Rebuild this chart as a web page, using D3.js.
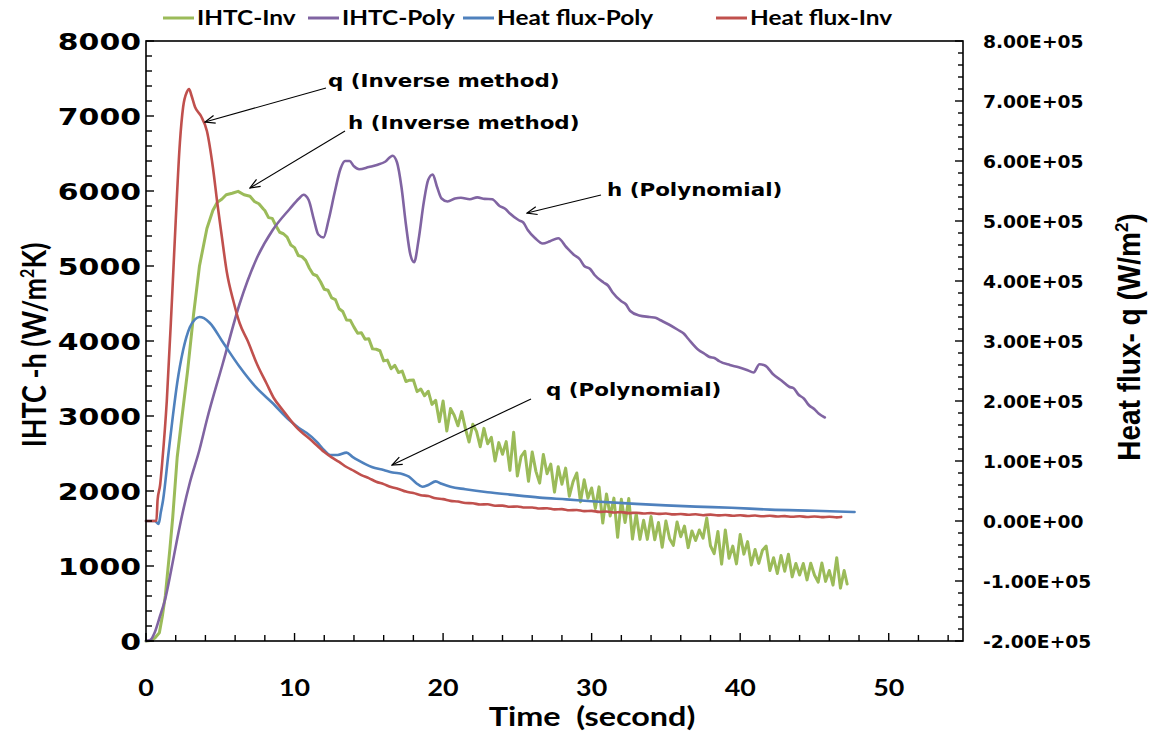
<!DOCTYPE html>
<html><head><meta charset="utf-8">
<script src="https://cdn.jsdelivr.net/npm/d3@7"></script>
<style>body{margin:0;background:#fff}svg{display:block}</style>
</head><body><svg id="c" width="1152" height="734"></svg>
<script>
// ---------------- DATA ----------------
const seriesNames = ["IHTC-Inv", "IHTC-Poly", "Heat flux-Poly", "Heat flux-Inv"];
const xTicks = [0, 10, 20, 30, 40, 50];
const leftTicks = [0, 1000, 2000, 3000, 4000, 5000, 6000, 7000, 8000];
const rightTicks = [-2e5, -1e5, 0, 1e5, 2e5, 3e5, 4e5, 5e5, 6e5, 7e5, 8e5];
const annotations = [
  {label: "q (Inverse method)", tx: 328, ty: 80, from: [326, 88], to: [205, 122]},
  {label: "h (Inverse method)", tx: 348, ty: 122, from: [345, 131], to: [250, 188]},
  {label: "h (Polynomial)", tx: 607, ty: 189, from: [601, 195], to: [527, 213]},
  {label: "q (Polynomial)", tx: 546, ty: 389, from: [531, 399], to: [392, 465]}
];

// IHTC-Inv (time s, h W/m2K)
const ihtcInv = [
[0,0],[0.3,5],[0.6,40],[0.9,110],[1.1,330],[1.3,600],[1.6,1210],[1.8,1650],[2.1,2450],[2.4,2950],[2.8,3600],[3.2,4350],[3.6,5000],[4.1,5500],[4.5,5740],[4.8,5850],[5.1,5890],[5.4,5950],[5.8,5970],[6.2,5995],[6.6,5950],[7.0,5930],[7.3,5860],[7.6,5830],[7.9,5760],
[8.0,5740],[8.25,5645],[8.5,5635],[8.75,5535],[9.0,5450],[9.25,5430],[9.5,5385],[9.75,5280],[10.0,5245],[10.25,5140],[10.5,5125],[10.75,5075],[11.0,4970],[11.25,4890],[11.5,4870],[11.75,4790],[12.0,4690],[12.25,4677],[12.5,4575],[12.75,4553],[13.0,4430],[13.25,4393],[13.5,4280],[13.75,4278],[14.0,4185],[14.25,4103],[14.5,4110],[14.75,4023],[15.0,4030],[15.25,3895],[15.5,3890],[15.75,3870],[16.0,3735],[16.25,3745],[16.5,3630],[16.75,3675],[17.0,3580],[17.25,3598],[17.5,3460],[17.75,3478],[18.0,3480],[18.25,3325],[18.5,3360],[18.75,3270],[19.0,3330],[19.25,3155],[19.5,3210],[19.75,2925],[20.0,3200],[20.25,2800],[20.5,3100],[20.75,3010],[21.0,2870],[21.25,3058],[21.5,2835],[21.75,2653],[22.0,2890],[22.25,2795],[22.5,2590],[22.75,2835],[23.0,2630],[23.25,2715],[23.5,2400],[23.75,2645],[24.0,2490],[24.25,2658],[24.5,2275],[24.75,2783],[25.0,2200],[25.25,2460],[25.5,2530],[25.75,2130],[26.0,2520],[26.25,2262],[26.5,2105],[26.75,2487],[27.0,2230],[27.25,2358],[27.5,1985],[27.75,2323],[28.0,2090],[28.25,2305],[28.5,1930],[28.75,2125],[29.0,2240],[29.25,1855],[29.5,2150],[29.75,1905],[30.0,2040],[30.25,1768],[30.5,2055],[30.75,1573],[31.0,1960],[31.25,1668],[31.5,1905],[31.75,1383],[32.0,1890],[32.25,1580],[32.5,1900],[32.75,1360],[33.0,1700],[33.25,1355],[33.5,1610],[33.75,1355],[34.0,1660],[34.25,1350],[34.5,1580],[34.75,1250],[35.0,1600],[35.25,1363],[35.5,1275],[35.75,1588],[36.0,1390],[36.25,1532],[36.5,1245],[36.75,1468],[37.0,1340],[37.25,1480],[37.5,1370],[37.75,1640],[38.0,1270],[38.25,1165],[38.5,1460],[38.75,1025],[39.0,1480],[39.25,1103],[39.5,1265],[39.75,1028],[40.0,1420],[40.25,1158],[40.5,1325],[40.75,1013],[41.0,1220],[41.25,1035],[41.5,1210],[41.75,1265],[42.0,940],[42.25,1110],[42.5,900],[42.75,1140],[43.0,930],[43.25,1158],[43.5,855],[43.75,1033],[44.0,880],[44.25,1033],[44.5,815],[44.75,1038],[45.0,880],[45.25,785],[45.5,1040],[45.75,795],[46.0,940],[46.25,745],[46.5,1110],[46.75,705],[47.0,940],[47.2,760]
];

// IHTC-Poly (time s, h W/m2K)
const ihtcPoly = [
[0,0],[0.3,15],[0.6,120],[0.94,330],[1.28,550],[1.7,950],[2.08,1340],[2.5,1740],[2.95,2110],[3.6,2550],[4.1,2950],[5.17,3700],[6.31,4500],[7.45,5100],[8.53,5480],[9.67,5760],[10.3,5900],[10.6,5950],[10.95,5880],[11.3,5620],[11.6,5420],[11.95,5380],[12.3,5620],[12.7,5980],[13.1,6300],[13.4,6400],[13.7,6400],[14.0,6330],[14.35,6290],[15.0,6320],[15.6,6350],[16.1,6390],[16.6,6470],[16.9,6380],[17.2,6050],[17.5,5550],[17.8,5150],[18.05,5050],[18.35,5350],[18.7,5850],[19.0,6150],[19.3,6220],[19.6,6050],[19.9,5900],[20.3,5860],[20.8,5900],[21.2,5910],[21.8,5890],[22.3,5915],[22.8,5895],[23.3,5890],[23.8,5800],[24.2,5760],[24.5,5700],[25.1,5610],[25.4,5580],[25.7,5480],[26.2,5370],[26.7,5300],[27.2,5330],[27.75,5370],[28.3,5250],[28.8,5150],[29.2,5090],[29.5,5000],[29.9,4960],[30.2,4880],[30.8,4780],[31.1,4740],[31.4,4650],[32.0,4530],[32.3,4490],[32.6,4400],[33.2,4340],[33.9,4320],[34.3,4310],[34.6,4280],[35.2,4220],[35.8,4150],[36.2,4100],[36.5,4030],[37.2,3880],[37.6,3830],[37.9,3790],[38.3,3770],[38.6,3730],[39.3,3680],[39.9,3650],[40.5,3610],[40.9,3580],[41.3,3690],[41.7,3670],[42.2,3560],[42.8,3470],[43.3,3390],[43.6,3370],[43.9,3290],[44.3,3230],[44.6,3150],[45.0,3090],[45.3,3030],[45.7,2980]
];

// Heat flux-Poly (time s, q W/m2)
const fluxPoly = [
[0,0],[0.6,0],[0.75,-3000],[0.85,-5000],[1.0,15000],[1.15,35000],[1.5,110000],[1.8,173000],[2.1,230000],[2.5,285000],[2.95,323000],[3.3,336000],[3.6,340000],[3.9,338000],[4.3,330000],[5.2,297000],[6.3,257000],[7.4,223000],[8.5,197000],[9.7,167000],[10.3,155000],[10.8,147000],[11.5,132000],[12.0,118000],[12.4,110000],[12.9,110000],[13.5,114000],[13.9,107000],[14.3,101000],[15.2,90000],[16.0,85000],[16.6,81000],[17.3,78000],[17.7,74000],[18.2,63000],[18.6,57000],[19.0,60000],[19.5,66000],[19.9,62000],[20.5,57000],[21.5,53000],[23.0,48000],[24.5,44000],[26.5,39000],[28.3,36000],[30.0,33000],[32.7,29000],[35.0,26000],[37.0,24000],[39.4,22000],[42.0,19000],[45.0,17000],[47.7,15000]
];

// Heat flux-Inv (time s, q W/m2)
const fluxInv = [
[0,0],[0.5,0],[0.7,500],[0.78,35000],[0.95,60000],[1.1,100000],[1.4,200000],[1.75,370000],[2.0,500000],[2.28,630000],[2.5,690000],[2.75,715000],[2.9,720000],[3.05,710000],[3.3,690000],[3.7,675000],[4.1,650000],[4.5,590000],[4.8,530000],[5.1,475000],[5.44,415000],[5.9,365000],[6.3,330000],[6.85,300000],[7.5,260000],[8.1,230000],[8.6,205000],[9.2,185000],[10.1,157000],[11.2,133000],
[12,115000],[12.5,106000],[13,98500],[13.5,90000],[14,83500],[14.5,76500],[15,71500],[15.5,65500],[16,61500],[16.5,56500],[17,53500],[17.5,49000],[18,46500],[18.5,43000],[19,41500],[19.5,38000],[20,36500],[20.5,33500],[21,32500],[21.5,30000],[22,29500],[22.5,27500],[23,27800],[23.5,25500],[24,25600],[24.5,23800],[25,24200],[25.5,22400],[26,22600],[26.5,20800],[27,21200],[27.5,19400],[28,19800],[28.5,17900],[29,18300],[29.5,16500],[30,16900],[30.5,15200],[31,15800],[31.5,14200],[32,14800],[32.5,13200],[33,13800],[33.5,12400],[34,13200],[34.5,11800],[35,12600],[35.5,11000],[36,11700],[36.5,10300],[37,11200],[37.5,9700],[38,10600],[38.5,9300],[39,10100],[39.5,8700],[40,9600],[40.5,8400],[41,9100],[41.5,7800],[42,8700],[42.5,7500],[43,8200],[43.5,7000],[44,7900],[44.5,6700],[45,7600],[45.5,6400],[46,7200],[46.5,6100],[46.8,6800]
];

const colors = {"IHTC-Inv": "#9BBB59", "IHTC-Poly": "#8064A2", "Heat flux-Poly": "#4F81BD", "Heat flux-Inv": "#C0504D"};

// ---------------- CHART ----------------
const svg = d3.select("#c");
const L = 146, R = 963, T = 41, B = 641;
const x = d3.scaleLinear().domain([0, 55]).range([L, R]);
const yL = d3.scaleLinear().domain([0, 8000]).range([B, T]);
const yR = d3.scaleLinear().domain([-2e5, 8e5]).range([B, T]);

const SX = 1.22; // horizontal stretch of the original raster
function stext(g, px, py, s, o) {
  const t = g.append("text")
    .attr("transform", `translate(${px},${py}) ` + (o.rot ? `rotate(${o.rot}) scale(1,${o.sx || SX})` : `scale(${o.sx || SX},1)`))
    .attr("font-family", o.family || "Lato, 'Open Sans', sans-serif")
    .attr("font-weight", o.weight || "bold")
    .attr("font-size", o.size)
    .attr("text-anchor", o.anchor || "start")
    .attr("fill", "#000");
  if (s !== null) t.text(s);
  return t;
}

// series lines
const lineL = d3.line().x(d => x(d[0])).y(d => yL(d[1]));
const lineLs = d3.line().x(d => x(d[0])).y(d => yL(d[1])).curve(d3.curveMonotoneX);
const lineRs = d3.line().x(d => x(d[0])).y(d => yR(d[1])).curve(d3.curveMonotoneX);
const gLines = svg.append("g").attr("fill", "none").attr("stroke-linejoin", "round").attr("stroke-linecap", "round");
gLines.append("path").attr("d", lineL(ihtcInv)).attr("stroke", colors["IHTC-Inv"]).attr("stroke-width", 3);
gLines.append("path").attr("d", lineLs(ihtcPoly)).attr("stroke", colors["IHTC-Poly"]).attr("stroke-width", 2.6);
gLines.append("path").attr("d", lineRs(fluxPoly)).attr("stroke", colors["Heat flux-Poly"]).attr("stroke-width", 2.6);
gLines.append("path").attr("d", lineRs(fluxInv)).attr("stroke", colors["Heat flux-Inv"]).attr("stroke-width", 2.6);

// frame
svg.append("rect").attr("x", L).attr("y", T).attr("width", R - L).attr("height", B - T)
  .attr("fill", "none").attr("stroke", "#000").attr("stroke-width", 1.6);

// ticks (inside)
const gt = svg.append("g").attr("stroke", "#000").attr("stroke-width", 1.4);
d3.range(0, 8001, 200).forEach(v => {
  const maj = v % 1000 === 0;
  gt.append("line").attr("x1", L).attr("x2", L + (maj ? 8 : 6)).attr("y1", yL(v)).attr("y2", yL(v));
});
d3.range(-2e5, 8e5 + 1, 2e4).forEach(v => {
  const maj = Math.round(v) % 1e5 === 0;
  gt.append("line").attr("x1", R).attr("x2", R - (maj ? 8 : 5)).attr("y1", yR(v)).attr("y2", yR(v));
});
d3.range(0, 55.1, 2).forEach(v => {
  const maj = v % 10 === 0;
  gt.append("line").attr("x1", x(v)).attr("x2", x(v)).attr("y1", B).attr("y2", B - (maj ? 8 : 6));
});

// tick labels
leftTicks.forEach(v => stext(svg, 141, yL(v) + 8.5, String(v), {size: 23, family: "'DejaVu Sans', Verdana, sans-serif", anchor: "end", sx: 1.3}));
const fmtE = v => {
  const [m, e] = v.toExponential(2).split("e");
  const sign = e[0] === "-" ? "-" : "+";
  const ex = e.replace(/[+-]/, "").padStart(2, "0");
  return m + "E" + sign + ex;
};
rightTicks.forEach(v => stext(svg, 983, yR(v) + 6.5, fmtE(v), {size: 17, family: "'DejaVu Sans', Verdana, sans-serif", sx: 1.1}));
xTicks.forEach(v => stext(svg, x(v), 696, String(v), {size: 22, anchor: "middle"}));

// axis titles
stext(svg, 592, 726, "Time\u00a0 (second)", {size: 26.5, anchor: "middle"});
const lt = stext(svg, 46, 345, null, {size: 27, anchor: "middle", rot: -90});
lt.append("tspan").text("IHTC -h (W/m");
lt.append("tspan").attr("font-size", 16).attr("dy", -10).text("2");
lt.append("tspan").attr("dy", 10).text("K)");
const rt = stext(svg, 1140, 337, null, {size: 28, family: "'Liberation Sans', Arial, sans-serif", anchor: "middle", rot: -90, sx: 1.1});
rt.append("tspan").text("Heat flux- q (W/m");
rt.append("tspan").attr("font-size", 17).attr("dy", -11).text("2");
rt.append("tspan").attr("dy", 11).text(")");

// annotations
const defs = svg.append("defs");
defs.append("marker").attr("id", "arr").attr("viewBox", "0 0 12 10").attr("refX", 11).attr("refY", 5)
  .attr("markerWidth", 12).attr("markerHeight", 10).attr("markerUnits", "userSpaceOnUse").attr("orient", "auto")
  .append("path").attr("d", "M1,1 L11,5 L1,9").attr("fill", "none").attr("stroke", "#000").attr("stroke-width", 1.2);
annotations.forEach(a => {
  svg.append("line").attr("x1", a.from[0]).attr("y1", a.from[1]).attr("x2", a.to[0]).attr("y2", a.to[1])
    .attr("stroke", "#000").attr("stroke-width", 1.1).attr("marker-end", "url(#arr)");
  stext(svg, a.tx, a.ty + 6.5, a.label, {size: 18, family: "'DejaVu Sans', Verdana, sans-serif", sx: 1.19});
});

// legend
const legendX = [163, 308, 463, 716];
seriesNames.forEach((n, i) => {
  svg.append("line").attr("x1", legendX[i]).attr("x2", legendX[i] + 31).attr("y1", 18).attr("y2", 18)
    .attr("stroke", colors[n]).attr("stroke-width", 3);
  stext(svg, legendX[i] + 34, 25, n, {size: 20});
});
</script>
</body></html>
